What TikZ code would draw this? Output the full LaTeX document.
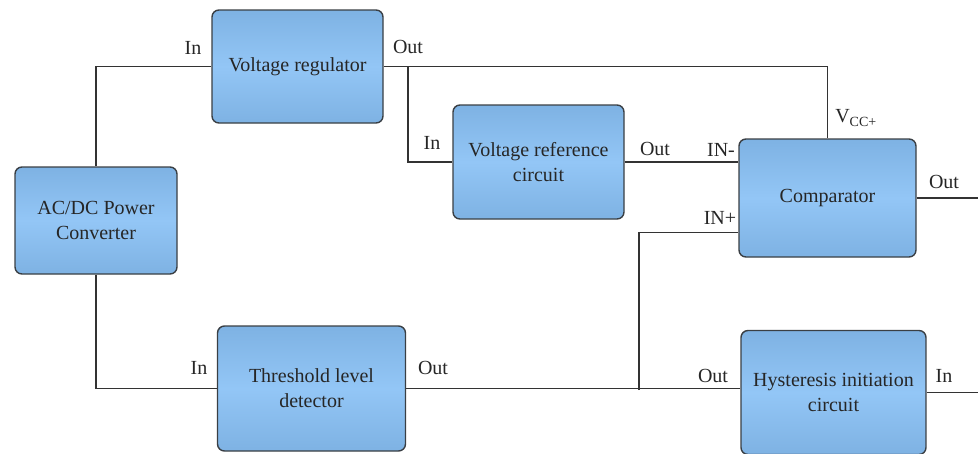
\documentclass[tikz,border=0pt]{standalone}
\usepackage{fontspec}
\setmainfont{Liberation Serif}
\definecolor{boxedge}{HTML}{3A3F44}
\definecolor{boxtop}{RGB}{126,178,227}
\definecolor{boxmid}{RGB}{147,198,246}
\definecolor{wire}{HTML}{333333}
\begin{document}
\begin{tikzpicture}[x=1pt,y=-1pt,
  blk/.style={draw=boxedge, line width=1.4pt, rounded corners=7pt,
    top color=boxtop, bottom color=boxtop, middle color=boxmid,
    inner sep=0pt, align=center, font=\fontsize{20}{25}\selectfont, text=black!85},
  lbl/.style={inner sep=0pt, font=\fontsize{20}{24}\selectfont, text=black!85},
  wr/.style={draw=wire, line width=1.3pt}]
\useasboundingbox (0,0) rectangle (978,453);
% blocks
\node[blk, minimum width=171pt, minimum height=113pt] (vr) at (297.5,66.5) {Voltage regulator};
\node[blk, minimum width=162pt, minimum height=107pt] (ac) at (96,220.5) {AC/DC Power\\Converter};
\node[blk, minimum width=171pt, minimum height=114pt] (vref) at (538.5,162) {Voltage reference\\circuit};
\node[blk, minimum width=177pt, minimum height=118pt] (cmp) at (827.5,198) {Comparator};
\node[blk, minimum width=188pt, minimum height=125pt] (thr) at (311.5,388.5) {Threshold level\\detector};
\node[blk, minimum width=185pt, minimum height=124pt] (hys) at (833.5,392.5) {Hysteresis initiation\\circuit};
% free ends / junctions
\coordinate (j1) at (408,66.5);
\coordinate (inp) at (738,232.5);
\coordinate (j2) at (639,390);
% wires
\draw[wr] (ac.north) |- (vr.west);
\draw[wr] (vr.east) -| (cmp.north);
\draw[wr] (j1) |- (vref.west);
\draw[wr] (vref.east) -- (vref.east -| cmp.west);
\draw[wr] (j2) |- (inp);
\draw[wr] (cmp.east) -- ++(70,0) coordinate (cout);
\draw[wr] (ac.south) |- (thr.west);
\draw[wr] (thr.east) -- (thr.east -| hys.west);
\draw[wr] (hys.east) -- ++(60,0) coordinate (hin);
% labels
\node[lbl] (l1) at (193,48) {In};
\node[lbl] (l2) at (408,47) {Out};
\node[lbl] (l3) at (432,143) {In};
\node[lbl] (l4) at (655,149) {Out};
\node[lbl] (l5) at (721,150) {IN-};
\node[lbl] (l6) at (856,118) {V\textsubscript{CC+}};
\node[lbl] (l7) at (944,182) {Out};
\node[lbl] (l8) at (720,218) {IN+};
\node[lbl] (l9) at (199,368) {In};
\node[lbl] (l10) at (433,368) {Out};
\node[lbl] (l11) at (713,376) {Out};
\node[lbl] (l12) at (944,376) {In};
\end{tikzpicture}
\end{document}
